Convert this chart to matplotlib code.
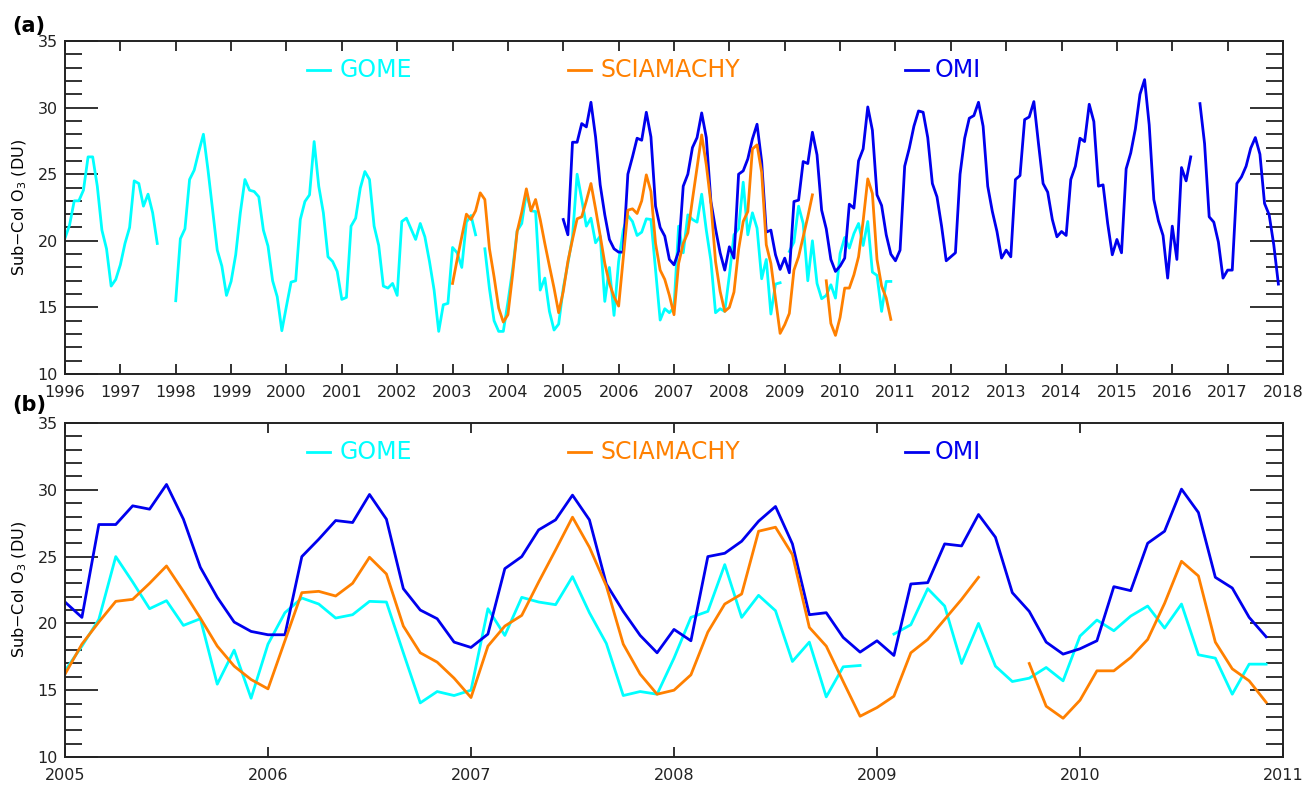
import numpy as np
import matplotlib
matplotlib.use("Agg")
import matplotlib.pyplot as plt

nan = np.nan

# monthly sub-column ozone (DU)
gome_start = 1996
gome = [
    20.2, 21.2, 23.0, 23.0, 23.8, 26.3, 26.3, 24.1, 20.8, 19.4, 16.6, 17.1,    # 1996
    18.2, 19.8, 21.0, 24.5, 24.3, 22.6, 23.5, 22.1, 19.8, nan, nan, nan,       # 1997
    15.5, 20.15, 20.9, 24.6, 25.3, 26.7, 28.0, 25.3, 22.3, 19.3, 18.1, 15.9,   # 1998
    16.95, 18.95, 22.1, 24.6, 23.8, 23.7, 23.3, 20.8, 19.6, 17.0, 15.8, 13.25, # 1999
    15.1, 16.9, 17.0, 21.6, 22.95, 23.45, 27.45, 24.1, 22.1, 18.8, 18.45, 17.7,  # 2000
    15.6, 15.75, 21.1, 21.7, 23.95, 25.2, 24.6, 21.1, 19.65, 16.6, 16.45, 16.8,  # 2001
    15.9, 21.45, 21.7, 20.9, 20.1, 21.3, 20.3, 18.45, 16.3, 13.2, 15.2, 15.3,  # 2002
    19.5, 19.1, 18.0, 21.4, 21.9, 20.45, nan, 19.4, 16.4, 14.0, 13.2, 13.2,    # 2003
    15.4, 17.8, 20.75, 21.3, 23.6, 22.25, 22.2, 16.3, 17.2, 14.7, 13.3, 13.75, # 2004
    16.45, 18.3, 20.3, 25.0, 23.1, 21.1, 21.7, 19.85, 20.35, 15.45, 18.0, 14.4,  # 2005
    18.45, 20.8, 21.9, 21.45, 20.4, 20.65, 21.65, 21.6, 17.8, 14.05, 14.9, 14.6, # 2006
    15.0, 21.1, 19.1, 21.95, 21.6, 21.4, 23.5, 20.8, 18.5, 14.6, 14.9, 14.7,   # 2007
    17.4, 20.45, 20.9, 24.4, 20.45, 22.1, 20.95, 17.15, 18.6, 14.5, 16.75, 16.85,  # 2008
    nan, 19.2, 19.9, 22.6, 21.3, 17.0, 20.0, 16.8, 15.65, 15.9, 16.7, 15.7,    # 2009
    19.05, 20.25, 19.45, 20.55, 21.3, 19.65, 21.45, 17.65, 17.4, 14.7, 16.95, 16.95,  # 2010
]

scia_start = 2003
scia = [
    16.8, 18.6, 20.3, 22.0, 21.6, 22.25, 23.6, 23.1, 19.4, 17.3, 14.95, 13.9,  # 2003
    14.45, 17.4, 20.7, 22.15, 23.9, 22.25, 23.1, 21.6, 19.8, 18.1, 16.45, 14.6,  # 2004
    16.2, 18.45, 20.1, 21.65, 21.8, 23.0, 24.3, 22.4, 20.4, 18.3, 16.8, 15.8,  # 2005
    15.1, 18.7, 22.3, 22.4, 22.05, 23.0, 24.95, 23.7, 19.8, 17.8, 17.1, 15.9,  # 2006
    14.45, 18.3, 19.8, 20.6, 23.1, 25.5, 27.95, 25.7, 22.8, 18.45, 16.2, 14.7,  # 2007
    15.0, 16.15, 19.35, 21.45, 22.2, 26.9, 27.2, 25.15, 19.7, 18.3, 15.65, 13.05,  # 2008
    13.7, 14.55, 17.8, 18.8, 20.3, 21.8, 23.45, nan, nan, 17.0, 13.8, 12.9,    # 2009
    14.25, 16.45, 16.45, 17.45, 18.8, 21.5, 24.65, 23.55, 18.6, 16.6, 15.7, 14.1,  # 2010
]

omi_start = 2005
omi = [
    21.6, 20.45, 27.4, 27.4, 28.8, 28.55, 30.4, 27.8, 24.2, 21.95, 20.1, 19.4,  # 2005
    19.15, 19.15, 25.0, 26.3, 27.7, 27.55, 29.65, 27.8, 22.6, 21.0, 20.35, 18.6,  # 2006
    18.2, 19.2, 24.1, 25.0, 27.0, 27.75, 29.6, 27.75, 22.95, 20.9, 19.1, 17.8,  # 2007
    19.55, 18.7, 25.0, 25.25, 26.15, 27.65, 28.75, 25.95, 20.65, 20.8, 18.95, 17.85,  # 2008
    18.7, 17.6, 22.95, 23.05, 25.95, 25.8, 28.15, 26.45, 22.3, 20.9, 18.6, 17.7,  # 2009
    18.1, 18.7, 22.75, 22.45, 26.0, 26.9, 30.05, 28.3, 23.45, 22.65, 20.45, 19.0,  # 2010
    18.5, 19.3, 25.6, 26.95, 28.6, 29.75, 29.65, 27.75, 24.3, 23.3, 21.1, 18.5,  # 2011
    18.8, 19.1, 25.0, 27.7, 29.2, 29.4, 30.4, 28.6, 24.1, 22.2, 20.7, 18.7,    # 2012
    19.3, 18.8, 24.6, 24.9, 29.1, 29.3, 30.45, 27.3, 24.3, 23.65, 21.6, 20.3,  # 2013
    20.7, 20.4, 24.6, 25.6, 27.7, 27.45, 30.25, 28.95, 24.1, 24.2, 21.3, 18.95,  # 2014
    20.1, 19.1, 25.4, 26.6, 28.4, 31.0, 32.1, 28.7, 23.1, 21.5, 20.4, 17.2,    # 2015
    21.1, 18.6, 25.5, 24.5, 26.3, nan, 30.3, 27.3, 21.8, 21.4, 19.9, 17.2,     # 2016
    17.8, 17.8, 24.3, 24.8, 25.6, 26.95, 27.75, 26.5, 22.8, 21.95, 19.7, 16.75,  # 2017
]

names = ["GOME", "SCIAMACHY", "OMI"]
colors = ["#00FFFF", "#FF8000", "#0000EE"]
series = [(gome_start, gome), (omi_start, omi), (scia_start, scia)]
order_colors = [colors[0], colors[2], colors[1]]


def months(start, vals):
    return start + np.arange(len(vals)) / 12.0


fig = plt.figure(figsize=(13.06, 7.85), dpi=100)
ax_a = fig.add_axes([65 / 1306, 1 - 374 / 785, 1218 / 1306, 333 / 785])
ax_b = fig.add_axes([65 / 1306, 1 - 757 / 785, 1218 / 1306, 334 / 785])

for ax, x0, x1 in [(ax_a, 1996, 2018), (ax_b, 2005, 2011)]:
    for (st, v), c in zip(series, order_colors):
        t = months(st, v)
        v = np.array(v)
        keep = (t >= x0 - 1e-6) & (t < x1)
        ax.plot(t[keep], v[keep], color=c, lw=2.0)
    ax.set_xlim(x0, x1)
    ax.set_ylim(10, 35)
    ax.set_xticks(range(x0, x1 + 1))
    ax.set_yticks(range(10, 36, 5))
    ax.set_yticks(range(10, 36), minor=True)
    ax.tick_params(axis="both", which="both", direction="in", top=True, right=True,
                   labelsize=11.5, colors="#222222")
    ax.tick_params(axis="y", which="major", length=24, width=1.3, pad=5)
    ax.tick_params(axis="y", which="minor", length=12, width=1.3)
    ax.tick_params(axis="x", which="major", length=7, width=1.3, pad=8)
    for s in ax.spines.values():
        s.set_linewidth(1.4)
        s.set_color("#222222")
    ax.set_ylabel("Sub$-$Col O$_3$ (DU)", fontsize=11.5, labelpad=6)

    # custom legend
    y_leg = 0.912
    for name, c, lx, tx in zip(names, colors, [0.1987, 0.413, 0.6897], [0.2258, 0.440, 0.714]):
        ax.plot([lx, lx + 0.019], [y_leg, y_leg], color=c, lw=2.0, transform=ax.transAxes,
                clip_on=False)
        ax.text(tx, y_leg, name, color=c, fontsize=17, va="center", ha="left",
                transform=ax.transAxes)

fig.text(12 / 1306, 1 - 26 / 785, "(a)", fontsize=15, fontweight="bold", va="center")
fig.text(12 / 1306, 1 - 405 / 785, "(b)", fontsize=15, fontweight="bold", va="center")

fig.savefig("out.png", dpi=100)
